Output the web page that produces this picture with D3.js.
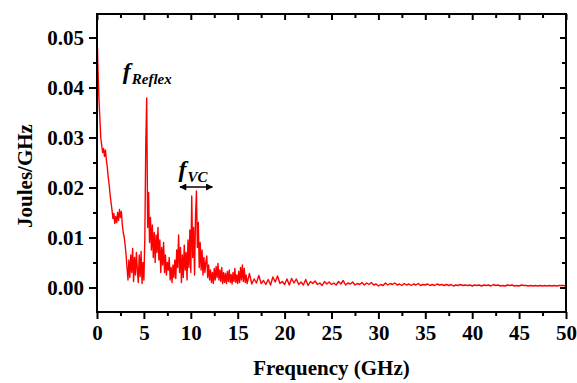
<!DOCTYPE html>
<html>
<head>
<meta charset="utf-8">
<script src="https://cdn.jsdelivr.net/npm/d3@7"></script>
<style>
  html, body { margin: 0; padding: 0; background: #fff; }
  svg { display: block; }
  text { font-family: "Liberation Serif", "Times New Roman", Times, serif; }
  .tick text { font-weight: bold; font-size: 21px; fill: #000; }
  .tick line { stroke: #000; stroke-width: 2; }
</style>
</head>
<body>
<div id="chart"></div>
<script>
// sample frequencies (GHz)
const freqGHz = [
  0.05, 0.1, 0.2, 0.3, 0.4, 0.5, 0.6, 0.7, 0.8, 0.9,
  1.0, 1.1, 1.2, 1.3, 1.4, 1.5, 1.6, 1.7, 1.8, 1.9,
  2.0, 2.1, 2.2, 2.3, 2.4, 2.5, 2.6, 2.7, 2.8, 2.9,
  3.0, 3.1, 3.2, 3.3, 3.4, 3.5, 3.6, 3.7, 3.8, 3.9,
  4.0, 4.1, 4.2, 4.3, 4.4, 4.5, 4.6, 4.7, 4.8, 4.9,
  5.0, 5.1, 5.2, 5.3, 5.4, 5.5, 5.6, 5.7, 5.8, 5.9,
  6.0, 6.1, 6.2, 6.3, 6.4, 6.5, 6.6, 6.7, 6.8, 6.9,
  7.0, 7.1, 7.2, 7.3, 7.4, 7.5, 7.6, 7.7, 7.8, 7.9,
  8.0, 8.1, 8.2, 8.3, 8.4, 8.5, 8.6, 8.7, 8.8, 8.9,
  9.0, 9.1, 9.2, 9.3, 9.4, 9.5, 9.6, 9.7, 9.8, 9.9,
  10.0, 10.1, 10.2, 10.3, 10.4, 10.5, 10.6, 10.7, 10.8, 10.9,
  11.0, 11.1, 11.2, 11.3, 11.4, 11.5, 11.6, 11.7, 11.8, 11.9,
  12.0, 12.1, 12.2, 12.3, 12.4, 12.5, 12.6, 12.7, 12.8, 12.9,
  13.0, 13.1, 13.2, 13.3, 13.4, 13.5, 13.6, 13.7, 13.8, 13.9,
  14.0, 14.1, 14.2, 14.3, 14.4, 14.5, 14.6, 14.7, 14.8, 14.9,
  15.0, 15.1, 15.2, 15.3, 15.4, 15.5, 15.6, 15.7, 15.8, 15.9,
  16.0, 16.25, 16.5, 16.75, 17.0, 17.25, 17.5, 17.75, 18.0, 18.25,
  18.5, 18.75, 19.0, 19.25, 19.5, 19.75, 20.0, 20.25, 20.5, 20.75,
  21.0, 21.25, 21.5, 21.75, 22.0, 22.25, 22.5, 22.75, 23.0, 23.25,
  23.5, 23.75, 24.0, 24.25, 24.5, 24.75, 25.0, 25.25, 25.5, 25.75,
  26.0, 26.25, 26.5, 26.75, 27.0, 27.25, 27.5, 27.75, 28.0, 28.25,
  28.5, 28.75, 29.0, 29.25, 29.5, 29.75, 30.0, 30.25, 30.5, 30.75,
  31.0, 31.25, 31.5, 31.75, 32.0, 32.25, 32.5, 32.75, 33.0, 33.25,
  33.5, 33.75, 34.0, 34.25, 34.5, 34.75, 35.0, 35.25, 35.5, 35.75,
  36.0, 36.25, 36.5, 36.75, 37.0, 37.25, 37.5, 37.75, 38.0, 38.25,
  38.5, 38.75, 39.0, 39.25, 39.5, 39.75, 40.0, 40.25, 40.5, 40.75,
  41.0, 41.25, 41.5, 41.75, 42.0, 42.25, 42.5, 42.75, 43.0, 43.25,
  43.5, 43.75, 44.0, 44.25, 44.5, 44.75, 45.0, 45.25, 45.5, 45.75,
  46.0, 46.25, 46.5, 46.75, 47.0, 47.25, 47.5, 47.75, 48.0, 48.25,
  48.5, 48.75, 49.0, 49.25, 49.5, 49.75, 50.0
];

// energy spectrum (Joules/GHz), same order as freqGHz
const joulesPerGHz = [
  0.0479, 0.0440, 0.0380, 0.0340, 0.0300, 0.0285, 0.0270, 0.0278, 0.0262, 0.0275,
  0.0255, 0.0240, 0.0220, 0.0205, 0.0185, 0.0170, 0.0155, 0.0138, 0.0148, 0.0128,
  0.0142, 0.0130, 0.0150, 0.0134, 0.0156, 0.0140, 0.0152, 0.0125, 0.0110, 0.0100,
  0.0085, 0.0065, 0.0040, 0.0015, 0.0055, 0.0020, 0.0065, 0.0030, 0.0078, 0.0012,
  0.0060, 0.0025, 0.0070, 0.0035, 0.0010, 0.0065, 0.0022, 0.0072, 0.0008, 0.0050,
  0.0015, 0.0100, 0.0289, 0.0379, 0.0120, 0.0190, 0.0090, 0.0140, 0.0075, 0.0125,
  0.0060, 0.0110, 0.0050, 0.0105, 0.0070, 0.0120, 0.0055, 0.0095, 0.0030, 0.0080,
  0.0045, 0.0090, 0.0030, 0.0065, 0.0025, 0.0050, 0.0035, 0.0060, 0.0015, 0.0040,
  0.0010, 0.0045, 0.0020, 0.0055, 0.0018, 0.0075, 0.0040, 0.0105, 0.0030, 0.0080,
  0.0010, 0.0065, 0.0020, 0.0085, 0.0035, 0.0070, 0.0015, 0.0095, 0.0040, 0.0115,
  0.0030, 0.0183, 0.0060, 0.0120, 0.0025, 0.0140, 0.0193, 0.0080, 0.0130, 0.0040,
  0.0090, 0.0035, 0.0075, 0.0025, 0.0060, 0.0030, 0.0050, 0.0063, 0.0020, 0.0045,
  0.0015, 0.0035, 0.0010, 0.0030, 0.0008, 0.0038, 0.0015, 0.0042, 0.0020, 0.0048,
  0.0015, 0.0035, 0.0012, 0.0040, 0.0008, 0.0030, 0.0010, 0.0028, 0.0008, 0.0032,
  0.0012, 0.0035, 0.0010, 0.0026, 0.0007, 0.0030, 0.0012, 0.0038, 0.0010, 0.0025,
  0.0008, 0.0032, 0.0010, 0.0040, 0.0015, 0.0045, 0.0012, 0.0038, 0.0010, 0.0025,
  0.0008, 0.0028, 0.0007, 0.0017, 0.0009, 0.0024, 0.0008, 0.0014, 0.0006, 0.0016,
  0.0005, 0.0021, 0.0011, 0.0023, 0.0008, 0.0012, 0.0006, 0.0017, 0.0005, 0.0018,
  0.0009, 0.0017, 0.0006, 0.0011, 0.0005, 0.0016, 0.0004, 0.0012, 0.0008, 0.0013,
  0.0006, 0.0009, 0.0004, 0.0012, 0.0007, 0.0011, 0.0006, 0.0009, 0.0005, 0.0012,
  0.0007, 0.0014, 0.0005, 0.0009, 0.0007, 0.0011, 0.0005, 0.0008, 0.0006, 0.0010,
  0.0005, 0.0009, 0.0006, 0.0010, 0.0005, 0.0007, 0.0003, 0.0006, 0.0004, 0.0009,
  0.0005, 0.0008, 0.0006, 0.0009, 0.0005, 0.0007, 0.0004, 0.0008, 0.0005, 0.0007,
  0.0004, 0.0007, 0.0005, 0.0008, 0.0004, 0.0006, 0.0005, 0.0007, 0.0004, 0.0006,
  0.0004, 0.0007, 0.0005, 0.0006, 0.0004, 0.0006, 0.0004, 0.0006, 0.0003, 0.0005,
  0.0004, 0.0006, 0.0004, 0.0005, 0.0004, 0.0005, 0.0003, 0.0005, 0.0004, 0.0005,
  0.0003, 0.0005, 0.0004, 0.0005, 0.0003, 0.0006, 0.0004, 0.0005, 0.0003, 0.0004,
  0.0003, 0.0005, 0.0004, 0.0005, 0.0003, 0.0004, 0.0003, 0.0005, 0.0004, 0.0004,
  0.0003, 0.0004, 0.0003, 0.0004, 0.0003, 0.0004, 0.0003, 0.0004, 0.0003, 0.0004,
  0.0003, 0.0004, 0.0003, 0.0004, 0.0004, 0.0004, 0.0003
];

const xTicks = [0, 5, 10, 15, 20, 25, 30, 35, 40, 45, 50];
const xMinorTicks = [2.5, 7.5, 12.5, 17.5, 22.5, 27.5, 32.5, 37.5, 42.5, 47.5];
const yTicks = [0, 0.01, 0.02, 0.03, 0.04, 0.05];
const yMinorTicks = [0.005, 0.015, 0.025, 0.035, 0.045];

const width = 577, height = 383;

const svg = d3.select('#chart').append('svg')
  .attr('width', width)
  .attr('height', height);

const x = d3.scaleLinear().domain([0, 50]).range([97, 566]);
const y = d3.scaleLinear().domain([-0.0049, 0.0547]).range([312, 14]);

const plotLeft = x.range()[0], plotRight = x.range()[1];
const plotTop = y.range()[1], plotBottom = y.range()[0];

function clean(g) {
  g.select('.domain').remove();
  g.attr('font-family', null).attr('font-size', null);
}

// bottom axis (outward ticks)
svg.append('g')
  .attr('transform', `translate(0,${plotBottom})`)
  .call(d3.axisBottom(x).tickValues(xTicks).tickSize(7).tickPadding(6).tickFormat(d3.format('d')))
  .call(clean);
svg.append('g')
  .attr('transform', `translate(0,${plotBottom})`)
  .call(d3.axisBottom(x).tickValues(xMinorTicks).tickSize(4).tickFormat(''))
  .call(clean);

// top axis (inward ticks)
svg.append('g')
  .attr('transform', `translate(0,${plotTop})`)
  .call(d3.axisBottom(x).tickValues(xTicks).tickSize(6).tickFormat(''))
  .call(clean);
svg.append('g')
  .attr('transform', `translate(0,${plotTop})`)
  .call(d3.axisBottom(x).tickValues(xMinorTicks).tickSize(4).tickFormat(''))
  .call(clean);

// left axis (outward ticks)
svg.append('g')
  .attr('transform', `translate(${plotLeft},0)`)
  .call(d3.axisLeft(y).tickValues(yTicks).tickSize(8).tickPadding(5).tickFormat(d3.format('.2f')))
  .call(clean);
svg.append('g')
  .attr('transform', `translate(${plotLeft},0)`)
  .call(d3.axisLeft(y).tickValues(yMinorTicks).tickSize(4).tickFormat(''))
  .call(clean);

// right axis (inward ticks)
svg.append('g')
  .attr('transform', `translate(${plotRight},0)`)
  .call(d3.axisLeft(y).tickValues(yTicks).tickSize(6).tickFormat(''))
  .call(clean);
svg.append('g')
  .attr('transform', `translate(${plotRight},0)`)
  .call(d3.axisLeft(y).tickValues(yMinorTicks).tickSize(4).tickFormat(''))
  .call(clean);

// spectrum line
const line = d3.line()
  .x((d, i) => x(freqGHz[i]))
  .y(d => y(d));

svg.append('path')
  .datum(joulesPerGHz)
  .attr('fill', 'none')
  .attr('stroke', '#ff0000')
  .attr('stroke-width', 1.4)
  .attr('stroke-linejoin', 'round')
  .attr('d', line);

// frame
svg.append('rect')
  .attr('x', plotLeft).attr('y', plotTop)
  .attr('width', plotRight - plotLeft).attr('height', plotBottom - plotTop)
  .attr('fill', 'none')
  .attr('stroke', '#000')
  .attr('stroke-width', 2);

// axis titles
svg.append('text')
  .attr('x', (plotLeft + plotRight) / 2)
  .attr('y', 375)
  .attr('text-anchor', 'middle')
  .attr('font-weight', 'bold')
  .attr('font-size', 21)
  .text('Frequency (GHz)');

svg.append('text')
  .attr('transform', `translate(32,${(plotTop + plotBottom) / 2 + 13}) rotate(-90)`)
  .attr('text-anchor', 'middle')
  .attr('font-weight', 'bold')
  .attr('font-size', 21)
  .text('Joules/GHz');

// annotations
function label(fx, fy, sub) {
  const t = svg.append('text')
    .attr('x', x(fx))
    .attr('y', y(fy))
    .attr('font-style', 'italic')
    .attr('font-weight', 'bold');
  t.append('tspan').attr('font-size', 24).text('f');
  t.append('tspan').attr('font-size', 15).attr('dy', 5).attr('dx', 1).text(sub);
}
label(2.75, 0.0417, 'Reflex');
label(8.7, 0.0221, 'VC');

const defs = svg.append('defs');
defs.append('marker')
  .attr('id', 'ah')
  .attr('viewBox', '0 0 10 10')
  .attr('refX', 9).attr('refY', 5)
  .attr('markerWidth', 9).attr('markerHeight', 7)
  .attr('markerUnits', 'userSpaceOnUse')
  .attr('orient', 'auto-start-reverse')
  .append('path')
  .attr('d', 'M0,0 L10,5 L0,10 Z')
  .attr('fill', '#000');

svg.append('line')
  .attr('x1', x(8.85)).attr('x2', x(12.3))
  .attr('y1', y(0.0201)).attr('y2', y(0.0201))
  .attr('stroke', '#000')
  .attr('stroke-width', 1.5)
  .attr('marker-start', 'url(#ah)')
  .attr('marker-end', 'url(#ah)');
</script>
</body>
</html>
